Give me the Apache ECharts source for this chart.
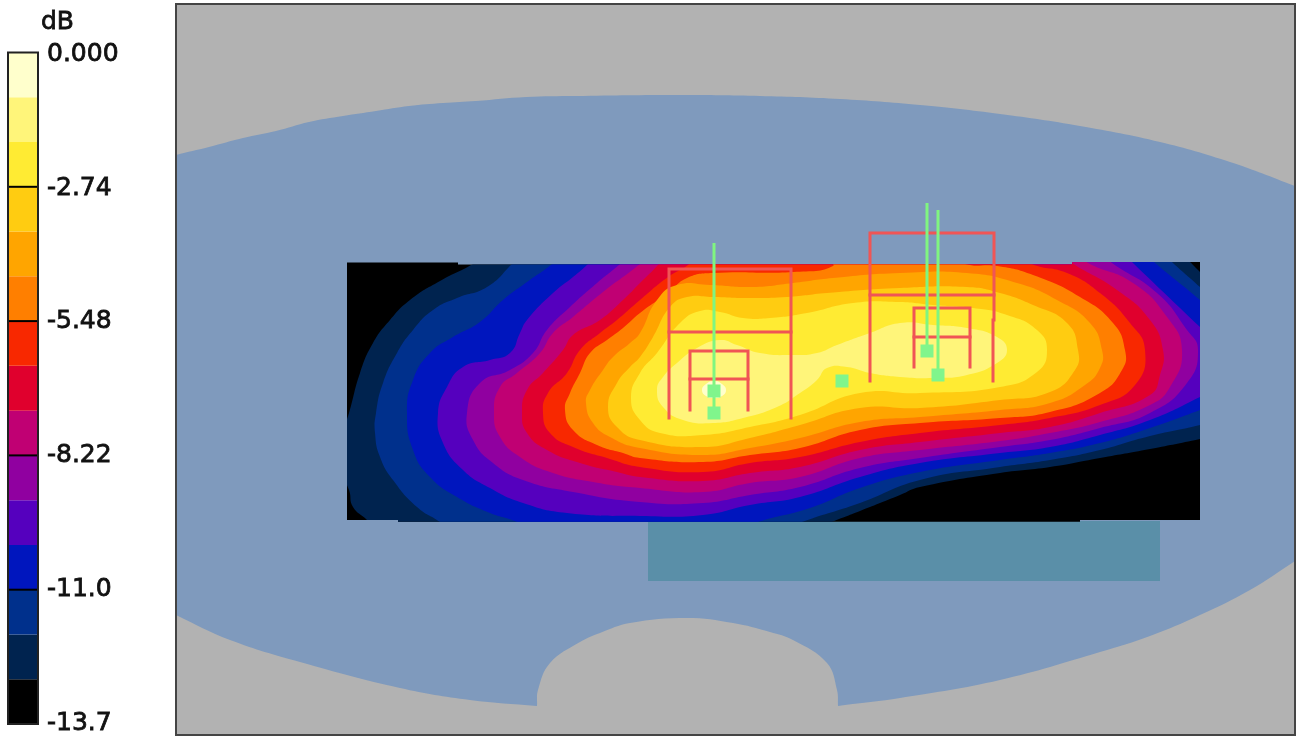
<!DOCTYPE html>
<html><head><meta charset="utf-8">
<style>html,body{margin:0;padding:0;background:#fff}#c{width:1297px;height:736px}</style>
<script src="https://cdn.jsdelivr.net/npm/echarts@6/dist/echarts.min.js"></script>
</head><body><div id="c"></div>
<script>
const tickLabels = ['-13.7','-11.0','-8.22','-5.48','-2.74','0.000'];
const tickValues = [-10.96, -8.22, -5.48, -2.74];
const dbMin = -13.7, dbStep = 2.74;
const bandColors = ['#000000','#00234F','#00308C','#0016BE','#5500BE','#9000A0','#C00073','#E0002D','#F82800','#FF7F00','#FFA500','#FFCC11','#FFEB33','#FFF57A','#FFFFCC'];

const plotBox = [[176,4],[1295,4],[1295,735],[176,735]];
const roomOutline = [[160,160],[176,155],[209,147],[243,138],[276,131],[309,122],[343,116],[376,111],[409,106],[443,103],[476,101],[526,97],[576,96],[680,95],[760,96],[840,99],[920,105],[1000,114],[1080,126],[1160,142],[1230,162],[1295,186],[1312,193],[1312,550],[1295,561],[1250,590],[1200,615],[1150,636],[1100,652],[1000,680],[900,698],[845,705],[838,706],[838,706],[837,690],[827,663],[793,640],[770,632],[733,623],[687,618],[630,623],[600,633],[580,642],[550,663],[538,690],[537,706],[537,706],[470,700],[400,688],[300,662],[230,640],[176,615],[160,607]];
const tealRect = [[648,521],[1160,521],[1160,581],[648,581]];
const heatOutline = [[347,262.5],[458,262.5],[458,264.5],[1072,264.5],[1072,262],[1200,262],[1200,520],[1080,520],[1080,521.7],[398,521.7],[398,520],[347,520]];

const bandNavy = [[485,255],[473,264],[440,281],[410,300],[390,320],[373,343],[360,373],[349,413],[340,440],[340,470],[349,490],[353,507],[367,520],[375,530],[815,530],[832,522],[860,511],[900,495],[920,487],[1000,473],[1050,467],[1100,458],[1150,449],[1200,439],[1212,436],[1212,284],[1200,272],[1190,262],[1182,255]];
const bandDarkBlue = [[520,255],[512,264],[487,287],[457,298],[433,310],[413,330],[397,353],[383,383],[376,413],[375,433],[380,457],[393,480],[417,507],[440,522],[450,530],[785,530],[802,522],[860,503],[920,480],[1000,467],[1050,460],[1100,450],[1150,436],[1200,425],[1212,421],[1212,298],[1200,287],[1173,263],[1165,255]];
const bandBlue = [[560,255],[552,264],[527,282],[503,300],[480,322],[453,337],[430,353],[413,380],[407,413],[413,450],[430,477],[457,497],[490,513],[517,522],[527,530],[745,530],[755,523],[810,508],[860,488],[920,472],[1000,460],[1050,453],[1100,443],[1150,428],[1200,410],[1212,405],[1212,312],[1200,300],[1155,263],[1147,255]];
const bandViolet = [[596,255],[588,264],[573,277],[553,293],[527,320],[520,333],[510,353],[490,360],[463,367],[447,387],[438,413],[443,443],[463,470],[490,488],[523,503],[567,513],[640,516],[703,515],[750,505],[800,497],[860,477],[920,463],[1000,453],[1050,447],[1100,435],[1150,420],[1200,397],[1212,390],[1212,338],[1200,327],[1133,263],[1125,255]];
const bandPurple = [[628,255],[620,264],[597,283],[570,307],[547,330],[533,353],[510,370],[480,383],[467,413],[473,440],[493,463],[523,480],[573,492],[640,502],[703,503],[750,495],[800,487],[860,468],[920,458],[1000,447],[1050,440],[1100,428],[1150,413],[1187,383],[1198,350],[1187,330],[1157,293],[1112,263],[1104,255]];
const bandMagenta = [[648,255],[640,264],[603,292],[573,317],[553,333],[540,353],[517,373],[500,387],[494,413],[500,437],[520,457],[550,472],[593,482],[640,488],[703,492],[750,483],[800,477],[860,458],[920,450],[1000,441],[1050,433],[1100,422],[1150,405],[1170,387],[1182,350],[1167,317],[1133,283],[1088,263],[1080,255]];
const bandCrimson = [[666,255],[658,265],[640,283],[623,300],[600,320],[573,335],[563,350],[543,373],[527,390],[522,413],[527,433],[547,450],[580,463],[617,472],[640,477],[703,481],[750,473],[800,467],[860,450],[920,442],[1000,433],[1050,427],[1100,413],[1150,395],[1160,375],[1163,350],[1150,320],[1117,290],[1072,263],[1064,255]];
const bandRed = [[696,255],[688,265],[668,277],[640,300],[617,320],[600,333],[580,350],[567,373],[548,393],[543,413],[550,433],[573,447],[607,458],[640,467],[703,472],[750,463],[800,457],[860,442],[920,433],[1000,425],[1050,418],[1100,405],[1135,385],[1145,350],[1130,323],[1100,293],[1067,273],[1032,264],[1024,255]];
const bandOrange = [[825,255],[833,266],[793,272],[713,273],[687,278],[668,293],[640,313],[623,328],[607,340],[590,353],[580,373],[570,393],[565,410],[573,430],[597,445],[623,453],[640,458],[703,462],[750,455],[800,448],[860,430],[920,423],[1000,418],[1050,412],[1100,393],[1122,370],[1125,350],[1113,323],[1080,297],[1033,275],[997,266],[965,264],[957,255]];
const bandAmber = [[1102,350],[1090,323],[1057,300],[1017,283],[967,273],[900,273],[833,278],[793,283],[753,287],[710,285],[677,285],[657,300],[640,333],[630,343],[613,357],[603,370],[590,390],[586,403],[593,423],[610,437],[640,448],[703,455],[750,448],[800,438],[860,422],[920,417],[1000,410],[1050,403],[1085,385],[1100,368]];
const bandGold = [[1078,350],[1067,323],[1033,305],[1000,293],[967,287],[900,288],[827,293],[787,297],[747,298],[713,297],[687,297],[670,307],[653,337],[640,357],[630,367],[617,383],[608,407],[617,427],[640,440],[703,447],[750,438],[800,425],[860,408],[920,408],[1000,400],[1050,392],[1075,370]];
const bandYellow = [[1047,350],[1037,330],[1007,315],[973,308],[933,305],[900,302],[853,303],[807,313],[770,318],[743,318],[720,312],[700,311],[680,323],[657,353],[640,373],[631,398],[640,420],[660,433],[703,435],[750,427],[800,415],[860,393],[920,393],[1000,387],[1037,372]];
const bandPale = [[1007,350],[997,337],[967,328],[933,325],[900,323],[870,333],[837,345],[817,353],[793,355],[760,353],[737,345],[720,340],[697,348],[677,363],[663,377],[657,390],[663,407],[683,420],[713,423],[743,418],[777,407],[800,393],[817,380],[827,368],[847,367],[870,373],[900,377],[933,378],[967,375],[997,363]];
const bandCream = [[702,390],[706,384],[714,381],[722,384],[726,390],[722,396],[714,398],[706,396]];

const redFrames = [
  [[669,418],[669,269],[791,269],[791,418]], [[669,332],[791,332]],
  [[690,410],[690,351],[748,351],[748,410]], [[690,379],[748,379]],
  [[870,381],[870,233],[994,233],[994,320]], [[993,320],[993,381]], [[870,295],[994,295]],
  [[914,367],[914,308],[970,308],[970,367]], [[914,337],[970,337]]
];
const greenStems = [[[714,243],[714,413]], [[927,203],[927,351]], [[938,210],[938,375]]];
const greenPoints = [[714,391],[714,413],[842,381],[927,351],[938,375]];

const contourBands = [bandNavy,bandDarkBlue,bandBlue,bandViolet,bandPurple,bandMagenta,bandCrimson,bandRed,bandOrange,bandAmber,bandGold,bandYellow,bandPale,bandCream];

const chart = echarts.init(document.getElementById('c'), null, {renderer:'canvas'});
const pts = (api, arr) => arr.map(p => api.coord(p));

const option = {
  animation:false, backgroundColor:'#ffffff',
  title:{text:'dB', left:41, top:10, padding:0, textStyle:{fontFamily:'DejaVu Sans', fontSize:25, fontWeight:'normal', color:'#111', textBorderColor:'#111', textBorderWidth:0.8}},
  grid:[
    {left:0, top:0, width:1297, height:736, show:false},
    {left:8, top:52.5, width:30, height:671.5, show:false},
    {left:8, top:54.5, width:30, height:670, show:false}
  ],
  xAxis:[
    {gridIndex:0, type:'value', min:0, max:1297, show:false},
    {gridIndex:1, type:'value', min:0, max:1, show:false},
    {gridIndex:2, type:'value', min:0, max:1, show:false}
  ],
  yAxis:[
    {gridIndex:0, type:'value', min:0, max:736, inverse:true, show:false},
    {gridIndex:1, type:'value', min:dbMin, max:0, interval:dbStep, show:false},
    {gridIndex:2, type:'value', min:dbMin, max:0, interval:dbStep, position:'right',
     axisLine:{show:false}, splitLine:{show:false}, axisTick:{show:false},
     axisLabel:{show:true, margin:9, showMinLabel:true, showMaxLabel:true, hideOverlap:false,
       fontFamily:'DejaVu Sans', fontSize:25, color:'#111', textBorderColor:'#111', textBorderWidth:0.8,
       formatter:(v,i)=>tickLabels[i]}}
  ],
  series:[
    {type:'custom', xAxisIndex:0, yAxisIndex:0, silent:true, clip:false, z:1, data:[[0]],
     renderItem:(params,api)=>{
       const box = pts(api, plotBox);
       const heat = pts(api, heatOutline);
       const children = [
         {type:'polygon', shape:{points:box}, style:{fill:'#B2B2B2'}},
         {type:'polygon', shape:{points:pts(api, roomOutline), smooth:0.4}, style:{fill:'#7F9ABD'}, clipPath:{type:'polygon', shape:{points:box}}},
         {type:'polygon', shape:{points:pts(api, tealRect)}, style:{fill:'#5A8FA8'}},
         {type:'polygon', shape:{points:heat}, style:{fill:bandColors[0]}}
       ];
       contourBands.forEach((b,i)=>{
         children.push({type:'polygon', shape:{points:pts(api,b), smooth:0.5},
           style:{fill:bandColors[i+1]}, clipPath:{type:'polygon', shape:{points:heat}}});
       });
       children.push({type:'polygon', shape:{points:box}, style:{fill:'none', stroke:'#444', lineWidth:2}});
       return {type:'group', children};
     }},
    ...redFrames.map(f=>({type:'line', xAxisIndex:0, yAxisIndex:0, data:f, symbol:'none', silent:true, z:3,
        lineStyle:{color:'#F05555', width:3, join:'miter', cap:'square'}})),
    ...greenStems.map(f=>({type:'line', xAxisIndex:0, yAxisIndex:0, data:f, symbol:'none', silent:true, z:4,
        lineStyle:{color:'#80F580', width:3}})),
    {type:'scatter', xAxisIndex:0, yAxisIndex:0, data:greenPoints, symbol:'rect', symbolSize:13, silent:true, z:5,
     itemStyle:{color:'#80F58C', opacity:1}},
    {type:'custom', xAxisIndex:1, yAxisIndex:1, silent:true, clip:false, z:2,
     data:bandColors.map((c,i)=>[i]),
     renderItem:(params,api)=>{
       const i = api.value(0), h = -dbMin/bandColors.length;
       const a = api.coord([0, dbMin+i*h]), b = api.coord([1, dbMin+(i+1)*h]);
       const children = [{type:'rect', shape:{x:a[0], y:b[1], width:b[0]-a[0], height:a[1]-b[1]}, style:{fill:bandColors[i]}}];
       if(i===bandColors.length-1){
         const lo = api.coord([0, dbMin]);
         tickValues.forEach(v=>{
           const p = api.coord([0,v]), q = api.coord([1,v]);
           children.push({type:'line', shape:{x1:p[0], y1:p[1], x2:q[0], y2:q[1]}, style:{stroke:'#000', lineWidth:2}});
         });
         children.push({type:'rect', shape:{x:a[0], y:b[1], width:b[0]-a[0], height:lo[1]-b[1]}, style:{fill:'none', stroke:'#222', lineWidth:2}});
       }
       return {type:'group', children};
     }}
  ]
};
chart.setOption(option);
</script></body></html>
